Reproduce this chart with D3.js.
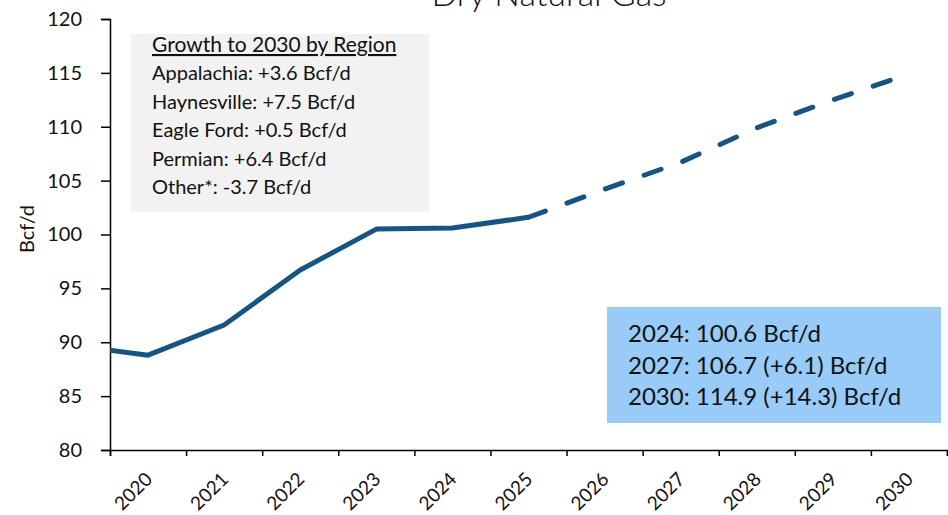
<!DOCTYPE html>
<html>
<head>
<meta charset="utf-8">
<script src="https://cdn.jsdelivr.net/npm/d3@7"></script>
<style>
  body { margin: 0; background: #fff; }
  svg text { font-family: Lato, "Open Sans", sans-serif; fill: #111; }
</style>
</head>
<body>
<svg id="chart" width="948" height="515"></svg>
<script>
// historical (2019 point sits left of the axis and is clipped)
const actualYears = [2019, 2020, 2021, 2022, 2023, 2024, 2025];
const actualValues = [89.7, 88.8, 91.6, 96.7, 100.5, 100.6, 101.6];
// forecast
const forecastYears = [2025, 2026, 2027, 2028, 2029, 2030];
const forecastValues = [101.6, 104.2, 106.7, 109.9, 112.5, 114.9];

const yearLabels = [2020, 2021, 2022, 2023, 2024, 2025, 2026, 2027, 2028, 2029, 2030];
const yTicks = [80, 85, 90, 95, 100, 105, 110, 115, 120];

const regionTitle = "Growth to 2030 by Region";
const regionLines = [
  "Appalachia: +3.6 Bcf/d",
  "Haynesville: +7.5 Bcf/d",
  "Eagle Ford: +0.5 Bcf/d",
  "Permian: +6.4 Bcf/d",
  "Other*: -3.7 Bcf/d"
];
const summaryLines = [
  "2024: 100.6 Bcf/d",
  "2027: 106.7 (+6.1) Bcf/d",
  "2030: 114.9 (+14.3) Bcf/d"
];

const svg = d3.select("#chart");
const plot = { left: 110, right: 947, top: 19, bottom: 450 };
const lineColor = "#165581";

const x = d3.scaleLinear().domain([2019.5, 2030.5]).range([plot.left, plot.right]);
const y = d3.scaleLinear().domain([80, 120]).range([plot.bottom, plot.top]);

// title (cut off at the top, like the source)
svg.append("text")
  .attr("x", 549).attr("y", 6)
  .attr("text-anchor", "middle")
  .style("font-size", "34px").style("font-weight", 300)
  .text("Dry Natural Gas");

// y axis
const yAxis = svg.append("g")
  .attr("transform", `translate(${plot.left},0)`)
  .call(d3.axisLeft(y).tickValues(yTicks).tickSize(9).tickPadding(19));
yAxis.select(".domain").attr("stroke", "#000").attr("stroke-width", 1.5);
yAxis.selectAll(".tick line").attr("stroke", "#000").attr("stroke-width", 1.5);
yAxis.selectAll(".tick text")
  .attr("fill", "#111")
  .style("font-size", "20px")
  .style("font-family", "Lato, sans-serif");

svg.append("text")
  .attr("transform", `translate(34,229) rotate(-90)`)
  .attr("text-anchor", "middle")
  .style("font-size", "20px")
  .text("Bcf/d");

// x axis: ticks on category boundaries
const edges = d3.range(2019.5, 2031, 1);
const xAxis = svg.append("g")
  .attr("transform", `translate(0,${plot.bottom})`)
  .call(d3.axisBottom(x).tickValues(edges).tickSize(6).tickFormat(""));
xAxis.select(".domain").attr("stroke", "#000").attr("stroke-width", 1.5);
xAxis.selectAll(".tick line").attr("stroke", "#000").attr("stroke-width", 1.5);

svg.append("g").selectAll("text")
  .data(yearLabels)
  .join("text")
  .attr("transform", d => `translate(${x(d) - 4},${plot.bottom + 21}) rotate(-45)`)
  .attr("text-anchor", "end")
  .attr("dy", "0.7em")
  .style("font-size", "19px")
  .text(d => d);

// region box
svg.append("rect")
  .attr("x", 131).attr("y", 34).attr("width", 298).attr("height", 178)
  .attr("fill", "#f2f2f2");
svg.append("text")
  .attr("x", 152).attr("y", 52)
  .style("font-size", "21px")
  .style("text-decoration", "underline")
  .text(regionTitle);
svg.append("g").selectAll("text")
  .data(regionLines)
  .join("text")
  .attr("x", 152)
  .attr("y", (d, i) => 80 + i * 28.6)
  .style("font-size", "20px")
  .text(d => d);

// clip so the 2019 point stays behind the axis
svg.append("clipPath").attr("id", "plot-clip")
  .append("rect").attr("x", plot.left).attr("y", 0)
  .attr("width", plot.right - plot.left).attr("height", plot.bottom);

const line = d3.line().x(d => x(d[0])).y(d => y(d[1]));

svg.append("path")
  .datum(d3.zip(actualYears, actualValues))
  .attr("clip-path", "url(#plot-clip)")
  .attr("fill", "none")
  .attr("stroke", lineColor)
  .attr("stroke-width", 5)
  .attr("stroke-linejoin", "round")
  .attr("d", line);

svg.append("path")
  .datum(d3.zip(forecastYears, forecastValues))
  .attr("fill", "none")
  .attr("stroke", lineColor)
  .attr("stroke-width", 5)
  .attr("stroke-linecap", "round")
  .attr("stroke-dasharray", "18,23")
  .attr("d", line);

// summary box
svg.append("rect")
  .attr("x", 607).attr("y", 307).attr("width", 334).attr("height", 116)
  .attr("fill", "#99cbf8");
svg.append("g").selectAll("text")
  .data(summaryLines)
  .join("text")
  .attr("x", 628)
  .attr("y", (d, i) => 342 + i * 31.5)
  .style("font-size", "24px")
  .text(d => d);
</script>
</body>
</html>
